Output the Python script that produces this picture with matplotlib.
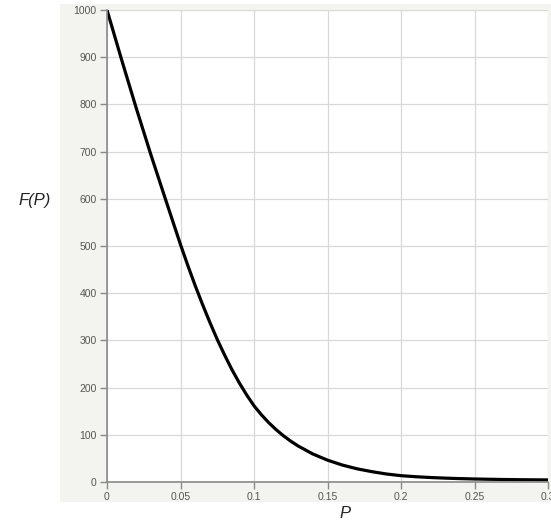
import matplotlib
matplotlib.use('Agg')
from matplotlib import pyplot as plt
from matplotlib.patches import Rectangle

# values
p_vals = [0, 0.01, 0.02, 0.03, 0.04, 0.05, 0.055, 0.06, 0.065, 0.07,
          0.075, 0.08, 0.085, 0.09, 0.095, 0.1, 0.105, 0.11, 0.115, 0.12,
          0.125, 0.13, 0.14, 0.15, 0.16, 0.17, 0.18, 0.19, 0.2, 0.21,
          0.22, 0.23, 0.24, 0.25, 0.26, 0.27, 0.28, 0.29, 0.3]
f_vals = [1000, 894, 791, 692, 597, 503, 458.5, 416, 376, 338,
          302, 269, 238, 210, 184.5, 161.5, 142.5, 125.8, 111, 98,
          86.5, 76.3, 59.4, 46.3, 36, 28, 22, 17, 13.4, 11.2,
          9.5, 8.2, 7.2, 6.4, 5.8, 5.3, 4.9, 4.6, 4.4]

x_ticks = [0, 0.05, 0.1, 0.15, 0.2, 0.25, 0.3]
x_labels = ['0', '0.05', '0.1', '0.15', '0.2', '0.25', '0.3']
y_ticks = list(range(0, 1001, 100))

plt.rcParams['font.family'] = ['Liberation Sans', 'DejaVu Sans']

W, H = 551, 522
fig = plt.figure(figsize=(W / 100, H / 100), dpi=100)
fig.patch.set_facecolor('white')
fig.patches.append(Rectangle((60 / W, 20 / H), 491 / W, 498 / H, transform=fig.transFigure,
                             facecolor='#f3f3ef', edgecolor='none', zorder=-10))

ax = fig.add_axes([107 / W, 40 / H, 441 / W, 472 / H])
ax.set_facecolor('white')
ax.plot(p_vals, f_vals, color='black', linewidth=2.3, solid_capstyle='round',
        solid_joinstyle='round')

ax.set_xlim(0, 0.3)
ax.set_ylim(0, 1000)
ax.set_xticks(x_ticks)
ax.set_xticklabels(x_labels)
ax.set_yticks(y_ticks)
ax.grid(True, color='#d8d8d8', linewidth=0.9)
ax.set_axisbelow(True)
for s in ['top', 'right']:
    ax.spines[s].set_visible(False)
for s in ['left', 'bottom']:
    ax.spines[s].set_color('#8a8a8a')
    ax.spines[s].set_linewidth(1.2)
ax.tick_params(colors='#8a8a8a', labelcolor='#555555', labelsize=7.5, length=5, width=1, pad=2.5)

fig.text(35 / W, 1 - 200 / H, 'F(P)', fontsize=12, style='italic', ha='center', va='center', color='#222222')
fig.text(345 / W, 1 - 514 / H, 'P', fontsize=12, style='italic', ha='center', va='center', color='#222222')

fig.savefig('out.png', dpi=100)
